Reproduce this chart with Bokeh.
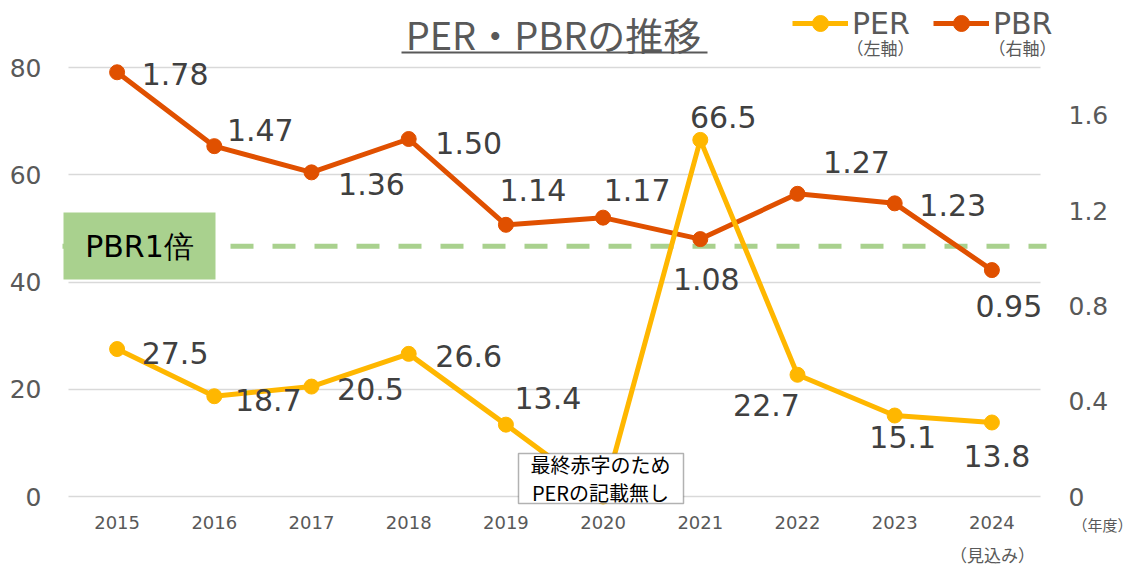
import numpy as np
from bokeh.plotting import figure
from bokeh.models import (Range1d, LinearAxis, FixedTicker, NumeralTickFormatter,
                          ColumnDataSource, LabelSet, Label, BoxAnnotation,
                          Legend, LegendItem, Grid)
from bokeh.embed import file_html
from bokeh.resources import INLINE
from bokeh.core.properties import value

# ---------------- data ----------------
years = ["2015", "2016", "2017", "2018", "2019", "2020", "2021", "2022", "2023", "2024"]
per = [27.5, 18.7, 20.5, 26.6, 13.4, 0.0, 66.5, 22.7, 15.1, 13.8]
per_text = ["27.5", "18.7", "20.5", "26.6", "13.4", "", "66.5", "22.7", "15.1", "13.8"]
pbr = [1.78, 1.47, 1.36, 1.50, 1.14, 1.17, 1.08, 1.27, 1.23, 0.95]
pbr_text = ["1.78", "1.47", "1.36", "1.50", "1.14", "1.17", "1.08", "1.27", "1.23", "0.95"]
left_ticks = [0, 20, 40, 60, 80]
right_ticks = [0, 0.4, 0.8, 1.2, 1.6]
pbr_ref_level = 1.05

# ---------------- styling / layout ----------------
PER_C = "#FFB700"
PBR_C = "#E05000"
GREEN = "#A9D18E"
W, H = 1135, 566
FL, FR, FB = 68, 1040, 496          # plot area (px)
CAT_PX = (FR - FL) / len(years)
LEFT_MAX, RIGHT_MAX, SPAN_PX = 80, 1.8, 429


def px_x(px):
    return (px - FL) / CAT_PX - 0.5


def px_y(py):
    return (FB - py) * LEFT_MAX / SPAN_PX


def px_r(py):
    return (FB - py) * RIGHT_MAX / SPAN_PX


x = list(range(len(years)))

p = figure(width=W, height=H, output_backend="svg", toolbar_location=None,
           x_range=Range1d(px_x(0), px_x(W)),
           y_range=Range1d(px_y(H), px_y(0)),
           x_axis_location=None, y_axis_location=None,
           min_border=0, min_border_left=0, min_border_right=0,
           min_border_top=0, min_border_bottom=0)
p.extra_y_ranges = {"pbr": Range1d(px_r(H), px_r(0))}
p.outline_line_color = None
p.background_fill_color = "white"
p.border_fill_color = "white"
p.xgrid.visible = False
p.ygrid.visible = False


def style_axis(ax, size, standoff):
    ax.axis_line_color = None
    ax.major_tick_line_color = None
    ax.minor_tick_line_color = None
    ax.major_tick_out = 0
    ax.major_tick_in = 0
    ax.minor_tick_out = 0
    ax.major_label_standoff = standoff
    ax.major_label_text_font = "DejaVu Sans"
    ax.major_label_text_font_size = size
    ax.major_label_text_color = "#595959"


xa = LinearAxis(ticker=FixedTicker(ticks=x), fixed_location=0)
xa.major_label_overrides = {i: y for i, y in enumerate(years)}
style_axis(xa, "18px", 19)
p.add_layout(xa, "below")

ya = LinearAxis(ticker=FixedTicker(ticks=left_ticks), fixed_location=-0.5)
style_axis(ya, "25px", 27)
p.add_layout(ya, "left")

ra = LinearAxis(y_range_name="pbr", ticker=FixedTicker(ticks=right_ticks),
                formatter=NumeralTickFormatter(format="0.[0]"), fixed_location=len(years) - 0.5)
style_axis(ra, "25px", 28)
p.add_layout(ra, "right")

grid = Grid(dimension=1, ticker=FixedTicker(ticks=left_ticks),
            grid_line_color="#D9D9D9", grid_line_width=1.5)
if "cross_bounds" in Grid.properties():
    grid.cross_bounds = (-0.5, len(years) - 0.5)
    p.add_layout(grid)
else:
    p.segment(x0=-0.5, x1=len(years) - 0.5, y0=left_ticks, y1=left_ticks,
              line_color="#D9D9D9", line_width=1.5)

# PBR 1x reference line
p.segment(x0=[px_x(62)], x1=[px_x(1046)], y0=[pbr_ref_level], y1=[pbr_ref_level],
          y_range_name="pbr", line_color=GREEN, line_width=5, line_dash="23 19")

# series
pbr_line = p.line(x, pbr, y_range_name="pbr", line_color=PBR_C, line_width=5)
pbr_pts = p.scatter(x, pbr, y_range_name="pbr", size=15, fill_color=PBR_C, line_color=PBR_C)
per_line = p.line(x, per, line_color=PER_C, line_width=5)
per_pts = p.scatter(x, per, size=15, fill_color=PER_C, line_color=PER_C)

# legend
legend = Legend(items=[LegendItem(label="PER", renderers=[per_line, per_pts]),
                       LegendItem(label="PBR", renderers=[pbr_line, pbr_pts])],
                orientation="horizontal", location=(792, H - 43),
                glyph_width=56, glyph_height=40, label_standoff=4, spacing=23,
                padding=0, margin=0, border_line_color=None, background_fill_alpha=0,
                label_text_font="DejaVu Sans", label_text_font_size="30px",
                label_text_color="#595959")
p.add_layout(legend)
for txt, cx in (("（左軸）", 880), ("（右軸）", 1022)):
    p.add_layout(Label(x=px_x(cx), y=px_y(47), text=txt, text_align="center",
                       text_baseline="middle", text_font="Noto Sans CJK JP",
                       text_font_size="17px", text_color="#595959"))

# data labels (offsets in px: right, up)
per_dx = [58, 54, 59, 60, 42, 0, 23, -31, 8, 5]
per_dy = [4, 4, 2, 2, -27, 0, -23, 30, 21, 34]
pbr_dx = [58, 46, 60, 60, 27, 34, 6, 59, 58, 17]
pbr_dy = [2, -16, 12, 4, -35, -28, 40, -32, 2, 36]

per_src = ColumnDataSource(dict(x=x, y=per, t=per_text, dx=per_dx, dy=[-d for d in per_dy]))
pbr_src = ColumnDataSource(dict(x=x, y=pbr, t=pbr_text, dx=pbr_dx, dy=[-d for d in pbr_dy]))
for src, rng in ((pbr_src, "pbr"), (per_src, "default")):
    p.add_layout(LabelSet(x="x", y="y", text="t", x_offset="dx", y_offset="dy",
                          source=src, y_range_name=rng, text_align="center",
                          text_baseline="middle", text_font=value("DejaVu Sans"),
                          text_font_size=value("30px"), text_color="#404040"))

# PBR1倍 box
p.add_layout(BoxAnnotation(left=px_x(63), right=px_x(215), top=px_y(212), bottom=px_y(279),
                           fill_color=GREEN, fill_alpha=1, line_color=None))
p.add_layout(Label(x=px_x(139), y=px_y(246), text="PBR1倍", text_align="center",
                   text_baseline="middle", text_font="DejaVu Sans",
                   text_font_size="30px", text_color="#000000"))

# note box for 2020
p.add_layout(BoxAnnotation(left=px_x(518), right=px_x(683), top=px_y(453), bottom=px_y(503),
                           fill_color="white", fill_alpha=1, line_color="black", line_width=1.5))
p.add_layout(Label(x=px_x(600), y=px_y(478), text="最終赤字のため\nPERの記載無し",
                   text_align="center", text_baseline="middle",
                   text_font="Noto Sans CJK JP", text_font_size="20px",
                   text_line_height=0.97, text_color="#000000"))

# title with underline
p.add_layout(Label(x=px_x(553), y=px_y(33), text="PER・PBRの推移", text_align="center",
                   text_baseline="middle", text_font="Noto Sans CJK JP",
                   text_font_size="38px", text_color="#595959"))
p.add_layout(BoxAnnotation(left=px_x(401), right=px_x(707), top=px_y(51), bottom=px_y(53),
                           fill_color="#595959", fill_alpha=1, line_color=None))

# extra axis notes
p.add_layout(Label(x=px_x(992), y=px_y(554), text="（見込み）", text_align="center",
                   text_baseline="middle", text_font="Noto Sans CJK JP",
                   text_font_size="17px", text_color="#595959"))
p.add_layout(Label(x=px_x(1102), y=px_y(524), text="（年度）", text_align="center",
                   text_baseline="middle", text_font="Noto Sans CJK JP",
                   text_font_size="15px", text_color="#595959"))

open("out.html", "w").write(file_html(p, INLINE))
